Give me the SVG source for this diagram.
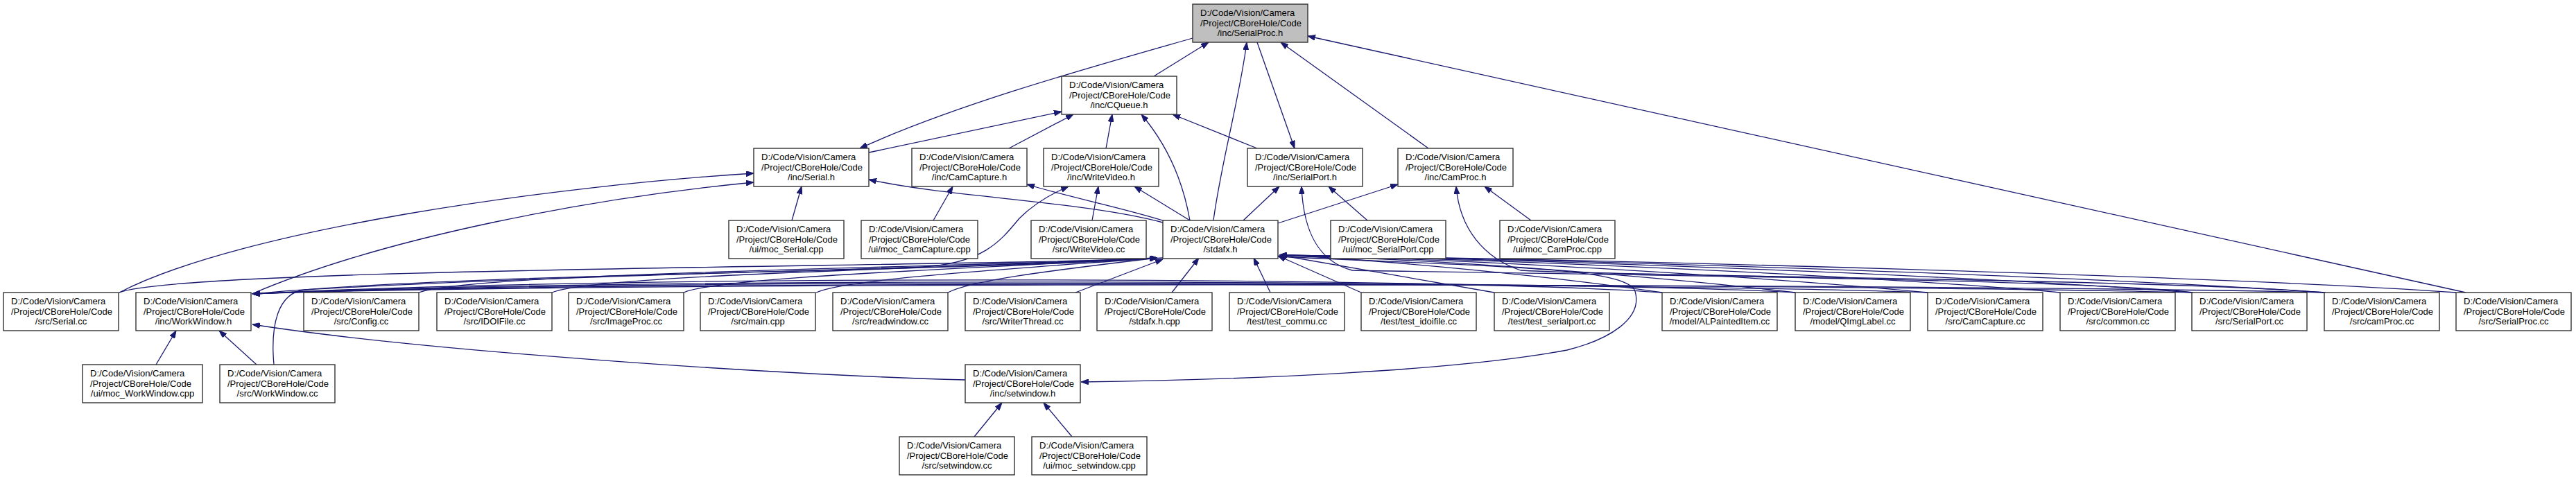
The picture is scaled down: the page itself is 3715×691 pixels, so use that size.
<svg xmlns="http://www.w3.org/2000/svg" width="3715" height="691" viewBox="0 0 3715 691">
<style>
.node rect{fill:#ffffff;stroke:#333333;stroke-width:1.4}
.root rect{fill:#bfbfbf}
.node text{font-family:"Liberation Sans",Arial,Helvetica,sans-serif;font-size:13px;fill:#000}
.node text.c{text-anchor:middle}
#edges path{fill:none;stroke:#191970;stroke-width:1.3;marker-end:url(#ah)}
</style>
<defs>
<marker id="ah" markerWidth="11" markerHeight="8" refX="11" refY="4" orient="auto" markerUnits="userSpaceOnUse"><path d="M0,0 L11,4 L0,8 z" fill="#191970" stroke="#191970" stroke-width="1"/></marker>
</defs>
<rect width="3715" height="691" fill="#ffffff"/>
<g id="edges">
<path d="M1664,110 L1743,61"/>
<path d="M1750,318 C1760,240 1788,140 1798,61"/>
<path d="M1813,61 L1867,214"/>
<path d="M2060,214 L1847,61"/>
<path d="M3556,422 L1886,52"/>
<path d="M1720,55 C1580,95 1380,150 1240,214"/>
<path d="M1253,220 L1531,161"/>
<path d="M1455,214 L1548,165"/>
<path d="M1595,214 L1604,165"/>
<path d="M1716,318 C1705,255 1680,205 1646,165"/>
<path d="M1813,214 L1691,165"/>
<path d="M1142,318 L1156,269"/>
<path d="M1677,321 C1560,290 1370,285 1253,259"/>
<path d="M172,422 C350,330 800,268 1087,250"/>
<path d="M363,424 C560,340 860,285 1087,263"/>
<path d="M1346,318 L1374,269"/>
<path d="M1680,319 C1620,300 1540,284 1481,266"/>
<path d="M1575,318 L1584,269"/>
<path d="M1716,318 L1636,269"/>
<path d="M395,526 C390,470 400,422 440,418 C750,400 1200,390 1330,385 C1420,380 1445,345 1470,315 C1490,295 1515,280 1541,269"/>
<path d="M1972,318 L1916,269"/>
<path d="M1793,318 L1845,269"/>
<path d="M3163,422 C3000,402 2200,395 1950,390 C1905,378 1880,340 1877,269"/>
<path d="M1843,322 L2016,266"/>
<path d="M2208,318 L2141,269"/>
<path d="M3354,422 C3100,402 2300,398 2193,390 C2140,372 2105,330 2100,269"/>
<path d="M172,422 C260,385 1450,385 1669,372"/>
<path d="M604,422 C680,392 1450,385 1669,372"/>
<path d="M796,422 C860,395 1450,385 1669,372"/>
<path d="M986,422 C1040,398 1450,386 1669,372"/>
<path d="M1177,422 C1220,402 1460,388 1669,372"/>
<path d="M1367,422 C1400,405 1500,392 1669,372"/>
<path d="M1551,422 L1677,374"/>
<path d="M1690,422 L1729,372"/>
<path d="M1832,422 L1808,372"/>
<path d="M1963,422 L1843,369"/>
<path d="M2155,422 L1845,368"/>
<path d="M2397,422 C2250,400 2000,375 1845,368"/>
<path d="M2589,422 C2400,400 2100,375 1845,368"/>
<path d="M2780,422 C2550,400 2150,375 1845,368"/>
<path d="M2971,422 C2700,398 2200,375 1845,368"/>
<path d="M3161,422 C2850,398 2250,375 1845,368"/>
<path d="M3352,422 C3000,398 2300,375 1845,368"/>
<path d="M3542,422 C3200,398 2350,375 1845,368"/>
<path d="M1677,372 C1300,395 700,392 364,424"/>
<path d="M2397,422 C2100,400 900,395 364,424"/>
<path d="M2589,422 C2300,405 900,398 364,424"/>
<path d="M2780,422 C2400,408 900,400 364,424"/>
<path d="M3161,422 C2700,410 900,402 364,424"/>
<path d="M3352,422 C2900,410 900,404 364,424"/>
<path d="M1405,630 L1445,581"/>
<path d="M1546,630 L1505,581"/>
<path d="M1392,548 C1100,540 600,505 364,468"/>
<path d="M1843,370 C2150,385 2345,385 2358,420 C2370,460 2320,490 2260,505 C2100,535 1800,548 1559,551"/>
<path d="M225,526 L254,477"/>
<path d="M370,526 L316,477"/>
</g>
<g id="n_serialproc_h" class="node root"><rect x="1720" y="6" width="166" height="55"/><text x="1731" y="23">D:/Code/Vision/Camera</text><text x="1731" y="37.5">/Project/CBoreHole/Code</text><text class="c" x="1803" y="52">/inc/SerialProc.h</text></g>
<g id="n_cqueue_h" class="node"><rect x="1531" y="110" width="166" height="55"/><text x="1542" y="127">D:/Code/Vision/Camera</text><text x="1542" y="141.5">/Project/CBoreHole/Code</text><text class="c" x="1614" y="156">/inc/CQueue.h</text></g>
<g id="n_serial_h" class="node"><rect x="1087" y="214" width="166" height="55"/><text x="1098" y="231">D:/Code/Vision/Camera</text><text x="1098" y="245.5">/Project/CBoreHole/Code</text><text class="c" x="1170" y="260">/inc/Serial.h</text></g>
<g id="n_camcapture_h" class="node"><rect x="1315" y="214" width="166" height="55"/><text x="1326" y="231">D:/Code/Vision/Camera</text><text x="1326" y="245.5">/Project/CBoreHole/Code</text><text class="c" x="1398" y="260">/inc/CamCapture.h</text></g>
<g id="n_writevideo_h" class="node"><rect x="1505" y="214" width="166" height="55"/><text x="1516" y="231">D:/Code/Vision/Camera</text><text x="1516" y="245.5">/Project/CBoreHole/Code</text><text class="c" x="1588" y="260">/inc/WriteVideo.h</text></g>
<g id="n_serialport_h" class="node"><rect x="1799" y="214" width="166" height="55"/><text x="1810" y="231">D:/Code/Vision/Camera</text><text x="1810" y="245.5">/Project/CBoreHole/Code</text><text class="c" x="1882" y="260">/inc/SerialPort.h</text></g>
<g id="n_camproc_h" class="node"><rect x="2016" y="214" width="166" height="55"/><text x="2027" y="231">D:/Code/Vision/Camera</text><text x="2027" y="245.5">/Project/CBoreHole/Code</text><text class="c" x="2099" y="260">/inc/CamProc.h</text></g>
<g id="n_moc_serial" class="node"><rect x="1051" y="318" width="166" height="55"/><text x="1062" y="335">D:/Code/Vision/Camera</text><text x="1062" y="349.5">/Project/CBoreHole/Code</text><text class="c" x="1134" y="364">/ui/moc_Serial.cpp</text></g>
<g id="n_moc_camcapture" class="node"><rect x="1242" y="318" width="168" height="55"/><text x="1253" y="335">D:/Code/Vision/Camera</text><text x="1253" y="349.5">/Project/CBoreHole/Code</text><text class="c" x="1326" y="364">/ui/moc_CamCapture.cpp</text></g>
<g id="n_writevideo_cc" class="node"><rect x="1487" y="318" width="166" height="55"/><text x="1498" y="335">D:/Code/Vision/Camera</text><text x="1498" y="349.5">/Project/CBoreHole/Code</text><text class="c" x="1570" y="364">/src/WriteVideo.cc</text></g>
<g id="n_stdafx_h" class="node"><rect x="1677" y="318" width="166" height="55"/><text x="1688" y="335">D:/Code/Vision/Camera</text><text x="1688" y="349.5">/Project/CBoreHole/Code</text><text class="c" x="1760" y="364">/stdafx.h</text></g>
<g id="n_moc_serialport" class="node"><rect x="1919" y="318" width="166" height="55"/><text x="1930" y="335">D:/Code/Vision/Camera</text><text x="1930" y="349.5">/Project/CBoreHole/Code</text><text class="c" x="2002" y="364">/ui/moc_SerialPort.cpp</text></g>
<g id="n_moc_camproc" class="node"><rect x="2163" y="318" width="166" height="55"/><text x="2174" y="335">D:/Code/Vision/Camera</text><text x="2174" y="349.5">/Project/CBoreHole/Code</text><text class="c" x="2246" y="364">/ui/moc_CamProc.cpp</text></g>
<g id="n_serial_cc" class="node"><rect x="5" y="422" width="166" height="55"/><text x="16" y="439">D:/Code/Vision/Camera</text><text x="16" y="453.5">/Project/CBoreHole/Code</text><text class="c" x="88" y="468">/src/Serial.cc</text></g>
<g id="n_workwindow_h" class="node"><rect x="196" y="422" width="166" height="55"/><text x="207" y="439">D:/Code/Vision/Camera</text><text x="207" y="453.5">/Project/CBoreHole/Code</text><text class="c" x="279" y="468">/inc/WorkWindow.h</text></g>
<g id="n_config_cc" class="node"><rect x="438" y="422" width="166" height="55"/><text x="449" y="439">D:/Code/Vision/Camera</text><text x="449" y="453.5">/Project/CBoreHole/Code</text><text class="c" x="521" y="468">/src/Config.cc</text></g>
<g id="n_idoifile_cc" class="node"><rect x="630" y="422" width="166" height="55"/><text x="641" y="439">D:/Code/Vision/Camera</text><text x="641" y="453.5">/Project/CBoreHole/Code</text><text class="c" x="713" y="468">/src/IDOIFile.cc</text></g>
<g id="n_imageproc_cc" class="node"><rect x="820" y="422" width="166" height="55"/><text x="831" y="439">D:/Code/Vision/Camera</text><text x="831" y="453.5">/Project/CBoreHole/Code</text><text class="c" x="903" y="468">/src/ImageProc.cc</text></g>
<g id="n_main_cpp" class="node"><rect x="1010" y="422" width="166" height="55"/><text x="1021" y="439">D:/Code/Vision/Camera</text><text x="1021" y="453.5">/Project/CBoreHole/Code</text><text class="c" x="1093" y="468">/src/main.cpp</text></g>
<g id="n_readwindow_cc" class="node"><rect x="1201" y="422" width="166" height="55"/><text x="1212" y="439">D:/Code/Vision/Camera</text><text x="1212" y="453.5">/Project/CBoreHole/Code</text><text class="c" x="1284" y="468">/src/readwindow.cc</text></g>
<g id="n_writerthread_cc" class="node"><rect x="1392" y="422" width="166" height="55"/><text x="1403" y="439">D:/Code/Vision/Camera</text><text x="1403" y="453.5">/Project/CBoreHole/Code</text><text class="c" x="1475" y="468">/src/WriterThread.cc</text></g>
<g id="n_stdafx_cpp" class="node"><rect x="1582" y="422" width="166" height="55"/><text x="1593" y="439">D:/Code/Vision/Camera</text><text x="1593" y="453.5">/Project/CBoreHole/Code</text><text class="c" x="1665" y="468">/stdafx.h.cpp</text></g>
<g id="n_test_commu" class="node"><rect x="1773" y="422" width="166" height="55"/><text x="1784" y="439">D:/Code/Vision/Camera</text><text x="1784" y="453.5">/Project/CBoreHole/Code</text><text class="c" x="1856" y="468">/test/test_commu.cc</text></g>
<g id="n_test_idoifile" class="node"><rect x="1963" y="422" width="166" height="55"/><text x="1974" y="439">D:/Code/Vision/Camera</text><text x="1974" y="453.5">/Project/CBoreHole/Code</text><text class="c" x="2046" y="468">/test/test_idoifile.cc</text></g>
<g id="n_test_serialport" class="node"><rect x="2155" y="422" width="166" height="55"/><text x="2166" y="439">D:/Code/Vision/Camera</text><text x="2166" y="453.5">/Project/CBoreHole/Code</text><text class="c" x="2238" y="468">/test/test_serialport.cc</text></g>
<g id="n_alpainteditem" class="node"><rect x="2397" y="422" width="166" height="55"/><text x="2408" y="439">D:/Code/Vision/Camera</text><text x="2408" y="453.5">/Project/CBoreHole/Code</text><text class="c" x="2480" y="468">/model/ALPaintedItem.cc</text></g>
<g id="n_qimglabel" class="node"><rect x="2589" y="422" width="166" height="55"/><text x="2600" y="439">D:/Code/Vision/Camera</text><text x="2600" y="453.5">/Project/CBoreHole/Code</text><text class="c" x="2672" y="468">/model/QImgLabel.cc</text></g>
<g id="n_camcapture_cc" class="node"><rect x="2780" y="422" width="166" height="55"/><text x="2791" y="439">D:/Code/Vision/Camera</text><text x="2791" y="453.5">/Project/CBoreHole/Code</text><text class="c" x="2863" y="468">/src/CamCapture.cc</text></g>
<g id="n_common_cc" class="node"><rect x="2971" y="422" width="166" height="55"/><text x="2982" y="439">D:/Code/Vision/Camera</text><text x="2982" y="453.5">/Project/CBoreHole/Code</text><text class="c" x="3054" y="468">/src/common.cc</text></g>
<g id="n_serialport_cc" class="node"><rect x="3161" y="422" width="166" height="55"/><text x="3172" y="439">D:/Code/Vision/Camera</text><text x="3172" y="453.5">/Project/CBoreHole/Code</text><text class="c" x="3244" y="468">/src/SerialPort.cc</text></g>
<g id="n_camproc_cc" class="node"><rect x="3352" y="422" width="166" height="55"/><text x="3363" y="439">D:/Code/Vision/Camera</text><text x="3363" y="453.5">/Project/CBoreHole/Code</text><text class="c" x="3435" y="468">/src/camProc.cc</text></g>
<g id="n_serialproc_cc" class="node"><rect x="3542" y="422" width="166" height="55"/><text x="3553" y="439">D:/Code/Vision/Camera</text><text x="3553" y="453.5">/Project/CBoreHole/Code</text><text class="c" x="3625" y="468">/src/SerialProc.cc</text></g>
<g id="n_moc_workwindow" class="node"><rect x="119" y="526" width="173" height="55"/><text x="130" y="543">D:/Code/Vision/Camera</text><text x="130" y="557.5">/Project/CBoreHole/Code</text><text class="c" x="205.5" y="572">/ui/moc_WorkWindow.cpp</text></g>
<g id="n_workwindow_cc" class="node"><rect x="317" y="526" width="166" height="55"/><text x="328" y="543">D:/Code/Vision/Camera</text><text x="328" y="557.5">/Project/CBoreHole/Code</text><text class="c" x="400" y="572">/src/WorkWindow.cc</text></g>
<g id="n_setwindow_h" class="node"><rect x="1392" y="526" width="166" height="55"/><text x="1403" y="543">D:/Code/Vision/Camera</text><text x="1403" y="557.5">/Project/CBoreHole/Code</text><text class="c" x="1475" y="572">/inc/setwindow.h</text></g>
<g id="n_setwindow_cc" class="node"><rect x="1297" y="630" width="166" height="55"/><text x="1308" y="647">D:/Code/Vision/Camera</text><text x="1308" y="661.5">/Project/CBoreHole/Code</text><text class="c" x="1380" y="676">/src/setwindow.cc</text></g>
<g id="n_moc_setwindow" class="node"><rect x="1488" y="630" width="166" height="55"/><text x="1499" y="647">D:/Code/Vision/Camera</text><text x="1499" y="661.5">/Project/CBoreHole/Code</text><text class="c" x="1571" y="676">/ui/moc_setwindow.cpp</text></g>
</svg>
